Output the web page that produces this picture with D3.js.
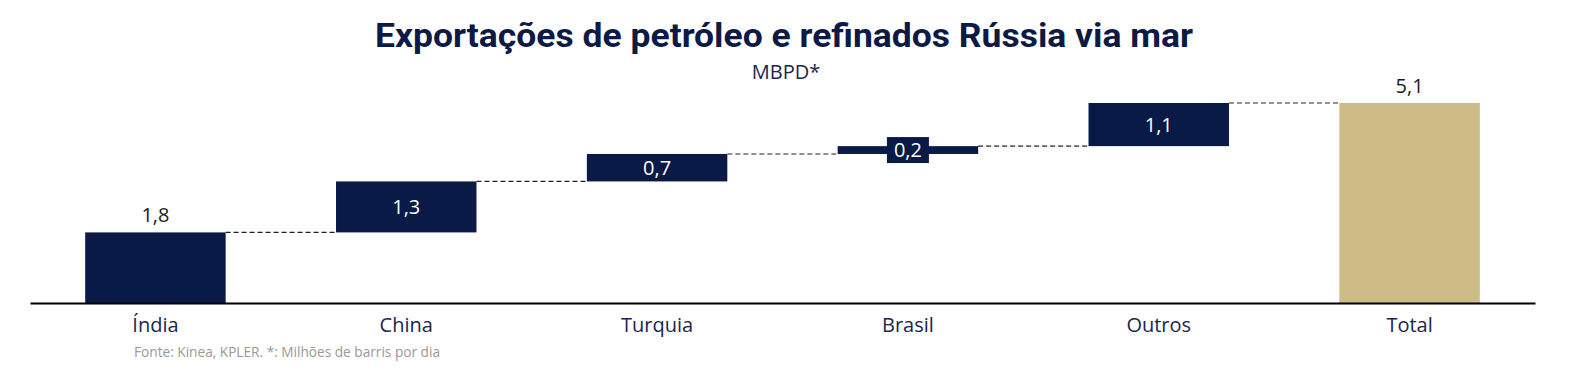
<!DOCTYPE html>
<html>
<head>
    <meta charset="utf-8" />
    <title>Exportações de petróleo</title>
    <script src="https://cdn.jsdelivr.net/npm/d3@7"></script>
    <style>
        body { margin: 0; background: #fff; }
        text { font-family: "Open Sans", "Noto Sans", sans-serif; }
        .title { font-family: "Roboto", "Noto Sans", sans-serif; font-weight: bold; }
    </style>
</head>
<body>
    <div id="chart"></div>
    <script>
        // dados
        var categorias = ["Índia", "China", "Turquia", "Brasil", "Outros", "Total"];
        var valores = [1.8, 1.3, 0.7, 0.2, 1.1, 5.1];
        var rotulos = ["1,8", "1,3", "0,7", "0,2", "1,1", "5,1"];
        var ehTotal = [false, false, false, false, false, true];

        var W = 1576, H = 384;
        var navy = "#0a1a47", tan = "#cdbc85";

        var svg = d3.select("#chart").append("svg")
            .attr("width", W).attr("height", H);

        // acumulados do waterfall
        var dados = [], acc = 0;
        categorias.forEach(function (c, i) {
            var ini, fim;
            if (ehTotal[i]) { ini = 0; fim = valores[i]; }
            else { ini = acc; fim = acc + valores[i]; acc = fim; }
            dados.push({ cat: c, ini: ini, fim: fim, rot: rotulos[i], total: ehTotal[i] });
        });

        var x = d3.scaleBand().domain(categorias).range([30, 1535])
            .paddingInner(0.44).paddingOuter(0.22);
        var y = d3.scaleLinear().domain([0, 5.1]).range([303, 103]);

        // título
        svg.append("text").attr("class", "title")
            .attr("x", 784).attr("y", 47)
            .attr("text-anchor", "middle")
            .attr("font-size", 34)
            .attr("fill", "#0c1a45")
            .attr("textLength", 818).attr("lengthAdjust", "spacingAndGlyphs")
            .text("Exportações de petróleo e refinados Rússia via mar");
        svg.append("text")
            .attr("x", 786).attr("y", 79)
            .attr("text-anchor", "middle")
            .attr("font-size", 20)
            .attr("fill", "#1b2550")
            .text("MBPD*");

        // linhas tracejadas
        for (var i = 0; i < dados.length - 1; i++) {
            svg.append("line")
                .attr("x1", x(dados[i].cat) + x.bandwidth())
                .attr("x2", x(dados[i + 1].cat))
                .attr("y1", y(dados[i].fim)).attr("y2", y(dados[i].fim))
                .attr("stroke", "#222").attr("stroke-width", 1.2)
                .attr("stroke-dasharray", "5,3");
        }

        // barras
        svg.selectAll(".bar").data(dados).enter().append("rect")
            .attr("class", "bar")
            .attr("x", function (d) { return x(d.cat); })
            .attr("width", x.bandwidth())
            .attr("y", function (d) { return y(d.fim); })
            .attr("height", function (d) { return y(d.ini) - y(d.fim); })
            .attr("fill", function (d) { return d.total ? tan : navy; });

        // rótulos
        dados.forEach(function (d) {
            var cx = x(d.cat) + x.bandwidth() / 2;
            if (d.ini === 0) {
                svg.append("text")
                    .attr("x", cx).attr("y", y(d.fim) - 10)
                    .attr("text-anchor", "middle")
                    .attr("font-size", 20).attr("fill", "#1a1a1a")
                    .text(d.rot);
            } else {
                var cy = (y(d.ini) + y(d.fim)) / 2;
                if (y(d.ini) - y(d.fim) < 20) {
                    svg.append("rect")
                        .attr("x", cx - 21).attr("y", cy - 13)
                        .attr("width", 42).attr("height", 26)
                        .attr("fill", navy);
                }
                svg.append("text")
                    .attr("x", cx).attr("y", cy)
                    .attr("dy", "0.36em")
                    .attr("text-anchor", "middle")
                    .attr("font-size", 20).attr("fill", "#fff")
                    .text(d.rot);
            }
        });

        // eixo x
        var eixo = svg.append("g")
            .attr("transform", "translate(0," + y(0) + ")")
            .call(d3.axisBottom(x).tickSize(0).tickPadding(15).tickSizeOuter(0));
        eixo.select(".domain").attr("stroke", "#000").attr("stroke-width", 2);
        eixo.selectAll("text")
            .attr("font-size", 20)
            .attr("font-family", "Open Sans, Noto Sans, sans-serif")
            .attr("fill", "#1b2550");

        // fonte
        svg.append("text")
            .attr("x", 134).attr("y", 357)
            .attr("font-size", 14).attr("fill", "#999")
            .attr("textLength", 306).attr("lengthAdjust", "spacingAndGlyphs")
            .text("Fonte: Kinea, KPLER. *: Milhões de barris por dia");
    </script>
</body>
</html>
